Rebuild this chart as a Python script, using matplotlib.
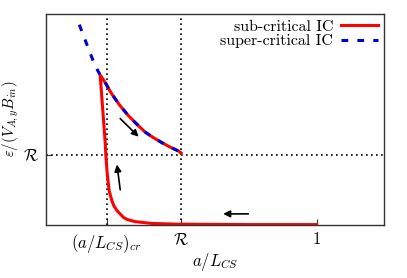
import numpy as np
import matplotlib
matplotlib.use("Agg")
import matplotlib.pyplot as plt

plt.rcParams['font.family'] = ['cmr10', 'DejaVu Serif']
plt.rcParams['mathtext.fontset'] = 'cm'
plt.rcParams['axes.formatter.use_mathtext'] = True

# reference levels
a_cr = 0.225
R = 0.5

# upper branch (shared by both curves), from the peak down to (R, R)
up_x = [0.201, 0.219, 0.244, 0.275, 0.306, 0.337, 0.367, 0.398, 0.429, 0.460, 0.491, 0.5]
up_y = [1.064, 1.012, 0.929, 0.845, 0.774, 0.714, 0.659, 0.619, 0.584, 0.552, 0.524, 0.51]

# sub-critical IC (red): along the floor, up the steep branch, then the upper branch
low_x = [1.0, 0.75, 0.49, 0.392, 0.33, 0.30, 0.287, 0.263, 0.252, 0.244, 0.234,
         0.227, 0.222, 0.219]
low_y = [0.003, 0.003, 0.006, 0.011, 0.024, 0.040, 0.054, 0.102, 0.135, 0.174, 0.245,
         0.366, 0.495, 0.602]
sub_x = low_x + up_x
sub_y = low_y + up_y

# super-critical IC (blue dashed): comes in from the top left
sup_x = [0.124, 0.158, 0.182] + up_x
sup_y = [1.421, 1.25, 1.131] + up_y

# arrows: (start, end)
arrows = [((0.275, 0.755), (0.343, 0.626)),
          ((0.275, 0.25), (0.263, 0.429)),
          ((0.748, 0.079), (0.655, 0.079))]

fig = plt.figure(figsize=(4.07, 2.78), dpi=100)
ax = fig.add_axes([0.1123, 0.1906, 0.832, 0.7608])

ax.axvline(a_cr, color='black', lw=1.2, ls=(0, (1, 2)))
ax.axvline(R, color='black', lw=1.2, ls=(0, (1, 2)))
ax.axhline(R, color='black', lw=1.2, ls=(0, (1, 2)))

ax.plot(sub_x, sub_y, color='red', lw=2.2, label='sub-critical IC', solid_joinstyle='miter')
ax.plot(sup_x, sup_y, color='#0000cc', lw=2.2, ls=(0, (2.2, 3.0)), label='super-critical IC')

for (x0, y0), (x1, y1) in arrows:
    ax.annotate('', xy=(x1, y1), xytext=(x0, y0),
                arrowprops=dict(arrowstyle='-|>', color='black', lw=1.2,
                                mutation_scale=10, shrinkA=0, shrinkB=0))

ax.set_xlim(0, 1.25)
ax.set_ylim(0, 1.5)
ax.set_xticks([a_cr, R, 1])
ax.set_xticklabels([r'$(a/L_{CS})_{cr}$', r'$\mathcal{R}$', '1'])
ax.set_yticks([R])
ax.set_yticklabels([r'$\mathcal{R}$'])
ax.tick_params(direction='in', length=4, labelsize=12, pad=5, colors='#333333', labelcolor='black')
ax.set_xlabel(r'$a/L_{CS}$', fontsize=12, labelpad=-3)
ax.set_ylabel(r'$\varepsilon/(V_{A,y}B_{in})$', fontsize=10.8)
ax.yaxis.set_label_coords(-0.073, 0.5)
for s in ax.spines.values():
    s.set_color('#333333')
    s.set_linewidth(1.0)

ax.legend(loc='upper right', frameon=False, markerfirst=False, fontsize=11.5,
          handlelength=2.3, borderaxespad=0.2, labelspacing=0.0, handletextpad=0.5,
          borderpad=0.2)

fig.savefig('out.png', dpi=100)
